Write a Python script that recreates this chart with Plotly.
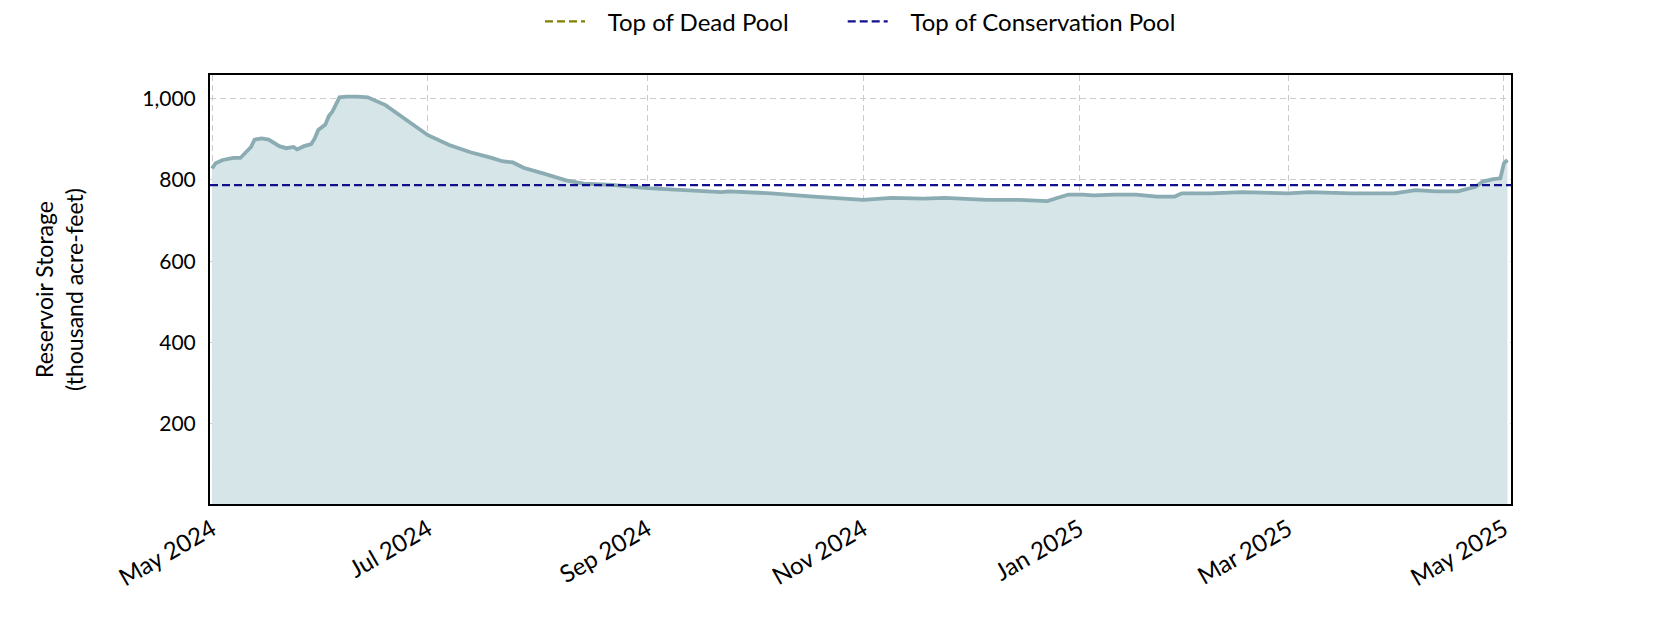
"""Reservoir storage chart, May 2024 - May 2025."""

import plotly.graph_objects as go

# observed storage, thousand acre-feet
dates = [
    "2024-05-01", "2024-05-02", "2024-05-04", "2024-05-07", "2024-05-09",
    "2024-05-11", "2024-05-12", "2024-05-13", "2024-05-15", "2024-05-17",
    "2024-05-20", "2024-05-22", "2024-05-24", "2024-05-25", "2024-05-27",
    "2024-05-29", "2024-05-30", "2024-05-31", "2024-06-02", "2024-06-03",
    "2024-06-04", "2024-06-06", "2024-06-08", "2024-06-11", "2024-06-14",
    "2024-06-19", "2024-06-25", "2024-07-01", "2024-07-07", "2024-07-13",
    "2024-07-19", "2024-07-22", "2024-07-25", "2024-07-28", "2024-08-03",
    "2024-08-09", "2024-08-14", "2024-08-22", "2024-09-01", "2024-09-12",
    "2024-09-22", "2024-09-24", "2024-10-06", "2024-10-18", "2024-10-30",
    "2024-11-01", "2024-11-09", "2024-11-18", "2024-11-24", "2024-12-06",
    "2024-12-15", "2024-12-23", "2024-12-26", "2024-12-29", "2025-01-02",
    "2025-01-05", "2025-01-11", "2025-01-17", "2025-01-23", "2025-01-28",
    "2025-01-30", "2025-02-07", "2025-02-16", "2025-03-01", "2025-03-07",
    "2025-03-19", "2025-03-31", "2025-04-06", "2025-04-12", "2025-04-18",
    "2025-04-23", "2025-04-25", "2025-04-28", "2025-04-30", "2025-05-01",
    "2025-05-02",
]
storage = [
    828, 841, 849, 854, 854,
    870, 881, 899, 902, 899,
    883, 878, 881, 875, 883,
    888, 902, 923, 936, 957,
    968, 1003, 1005, 1005, 1003,
    984, 947, 910, 886, 868,
    854, 846, 843, 830, 815,
    799, 791, 788, 780, 775,
    770, 772, 767, 759, 754,
    751, 756, 754, 756, 751,
    751, 748, 756, 764, 764,
    762, 764, 764, 759, 759,
    767, 767, 770, 767, 770,
    767, 767, 775, 772, 772,
    783, 796, 802, 804, 841,
    849,
]

dead_pool = 0
conservation_pool = 787

x_range = ["2024-04-30 10:00", "2025-05-03 00:00"]
y_range = [3, 1058]
x_ticks = ["2024-05-01", "2024-07-01", "2024-09-01", "2024-11-01",
           "2025-01-01", "2025-03-01", "2025-05-01"]
y_ticks = [200, 400, 600, 800, 1000]

FONT = "Lato"
NB = "\u00a0"
PAD = NB * 3    # room between legend line sample and label
GAP = NB * 8    # room between the two legend entries

fig = go.Figure()

fig.add_trace(go.Scatter(
    x=dates, y=storage,
    mode="lines",
    line=dict(color="#8aacb2", width=3.8),
    fill="tozeroy",
    fillcolor="#d6e5e8",
    showlegend=False,
    name="Storage",
))

fig.add_trace(go.Scatter(
    x=[dates[0], dates[-1]], y=[dead_pool, dead_pool],
    mode="lines",
    line=dict(color="#808000", width=2.2, dash="8px,4px"),
    name=PAD + "Top of Dead Pool" + GAP,
))

fig.add_trace(go.Scatter(
    x=[x_range[0], x_range[1]], y=[conservation_pool, conservation_pool],
    mode="lines",
    line=dict(color="#10108c", width=2.2, dash="8px,4px"),
    name=PAD + "Top of Conservation Pool",
))

fig.update_layout(
    width=1680, height=630,
    margin=dict(l=202, r=177, t=67, b=134),
    plot_bgcolor="white",
    paper_bgcolor="white",
    font=dict(family=FONT, size=20, color="black"),
    legend=dict(
        orientation="h",
        x=0.5, xanchor="center",
        y=0.978, yanchor="middle",
        yref="container",
        font=dict(size=24),
        itemwidth=40,
        traceorder="normal",
    ),
    showlegend=True,
)

fig.update_xaxes(
    type="date",
    range=x_range,
    tickvals=x_ticks,
    tickformat="%b %Y",
    tickangle=-30,
    ticks="",
    showgrid=True,
    gridcolor="#cccccc",
    griddash="6px,4px",
    gridwidth=1.3,
    showline=True, linecolor="black", linewidth=2, mirror=True,
    zeroline=False,
    tickfont=dict(size=24),
)

fig.update_yaxes(
    range=y_range,
    tickvals=y_ticks,
    tickformat=",d",
    ticks="",
    ticklabelstandoff=8,
    showgrid=True,
    gridcolor="#cccccc",
    griddash="6px,4px",
    gridwidth=1.3,
    showline=True, linecolor="black", linewidth=2, mirror=True,
    zeroline=False,
    title=dict(text="Reservoir Storage<br>(thousand acre-feet)", standoff=52,
               font=dict(size=23)),
    tickfont=dict(size=21),
)

fig.write_html("out.html")
